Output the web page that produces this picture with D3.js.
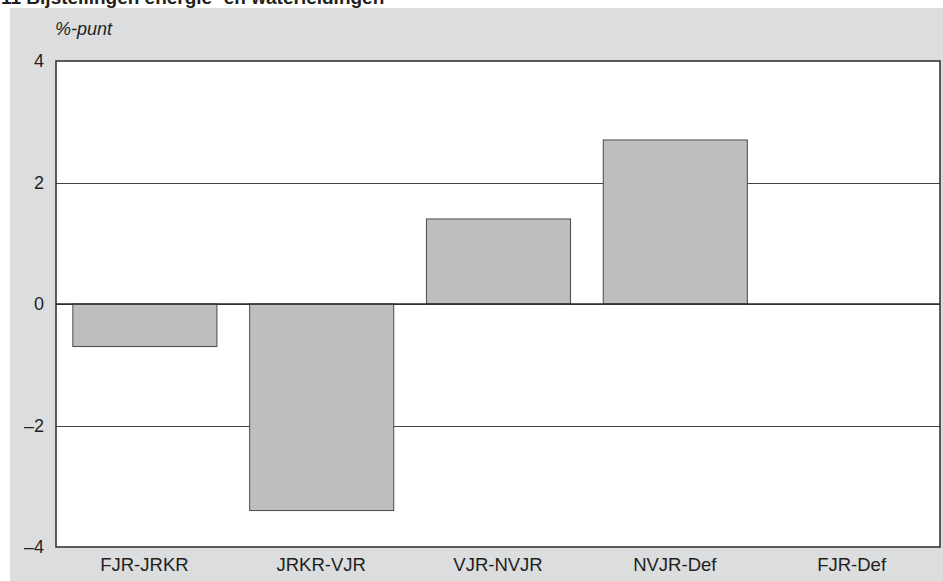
<!DOCTYPE html>
<html>
<head>
<meta charset="utf-8">
<script src="https://cdn.jsdelivr.net/npm/d3@7"></script>
<style>
  html, body { margin: 0; padding: 0; background: #ffffff; }
  svg { display: block; }
  text { font-family: "Liberation Sans", Arial, sans-serif; fill: #231f20; }
</style>
</head>
<body>
<script>
const title = "11 Bijstellingen energie- en waterleidingen";
const unitLabel = "%-punt";
const categories = ["FJR-JRKR", "JRKR-VJR", "VJR-NVJR", "NVJR-Def", "FJR-Def"];
const values = [-0.7, -3.4, 1.4, 2.7, 0];
const yTicks = [-4, -2, 0, 2, 4];

const W = 943, H = 581;
const plot = { left: 56, right: 940, top: 61, bottom: 547 };

const svg = d3.select("body").append("svg").attr("width", W).attr("height", H);

// background panel
svg.append("rect").attr("x", 10).attr("y", 8).attr("width", W - 10).attr("height", H - 8)
  .attr("fill", "#dcddde");

// title (cut off at top like reference)
svg.append("text").attr("x", 1).attr("y", 4)
  .attr("font-size", 19).attr("font-weight", "bold").text(title);

const x = d3.scaleBand().domain(categories).range([plot.left, plot.right])
  .paddingInner(0.185).paddingOuter(0.0925);
const y = d3.scaleLinear().domain([-4, 4]).range([plot.bottom, plot.top]);

// plot area
svg.append("rect").attr("x", plot.left).attr("y", plot.top)
  .attr("width", plot.right - plot.left).attr("height", plot.bottom - plot.top)
  .attr("fill", "#ffffff");

// gridlines
svg.append("g").selectAll("line").data(yTicks.filter(d => d !== 4 && d !== -4)).join("line")
  .attr("x1", plot.left).attr("x2", plot.right)
  .attr("y1", d => Math.round(y(d)) + 0.5).attr("y2", d => Math.round(y(d)) + 0.5)
  .attr("stroke", "#444444").attr("stroke-width", 1);

// bars
svg.append("g").selectAll("rect").data(categories.map((c, i) => ({ c, v: values[i] })).filter(d => d.v !== 0)).join("rect")
  .attr("x", d => x(d.c) + 0.5)
  .attr("y", d => y(Math.max(0, d.v)))
  .attr("width", x.bandwidth())
  .attr("height", d => Math.abs(y(d.v) - y(0)))
  .attr("fill", "#bdbec0").attr("stroke", "#4a4a4a").attr("stroke-width", 1);

// zero line on top
svg.append("line").attr("x1", plot.left).attr("x2", plot.right)
  .attr("y1", y(0)).attr("y2", y(0))
  .attr("stroke", "#2a2a2a").attr("stroke-width", 1.5);

// border
svg.append("rect").attr("x", plot.left).attr("y", plot.top)
  .attr("width", plot.right - plot.left).attr("height", plot.bottom - plot.top)
  .attr("fill", "none").attr("stroke", "#2a2a2a").attr("stroke-width", 1.5);

// y axis labels
const yAxis = d3.axisLeft(y).tickValues(yTicks)
  .tickFormat(d => d < 0 ? "\u2013" + Math.abs(d) : String(d))
  .tickSize(0).tickPadding(12);
const gy = svg.append("g").attr("transform", `translate(${plot.left},0)`).call(yAxis);
gy.select(".domain").remove();
gy.selectAll("text").attr("font-size", 18).attr("fill", "#231f20")
  .attr("font-family", "Liberation Sans, Arial, sans-serif");

// x axis labels
const xAxis = d3.axisBottom(x).tickSize(0).tickPadding(11);
const gx = svg.append("g").attr("transform", `translate(0,${plot.bottom})`).call(xAxis);
gx.select(".domain").remove();
gx.selectAll("text").attr("font-size", 18.5).attr("fill", "#231f20")
  .attr("font-family", "Liberation Sans, Arial, sans-serif");

// unit label
svg.append("text").attr("x", 55).attr("y", 35)
  .attr("font-size", 18).attr("font-style", "italic").text(unitLabel);
</script>
</body>
</html>
